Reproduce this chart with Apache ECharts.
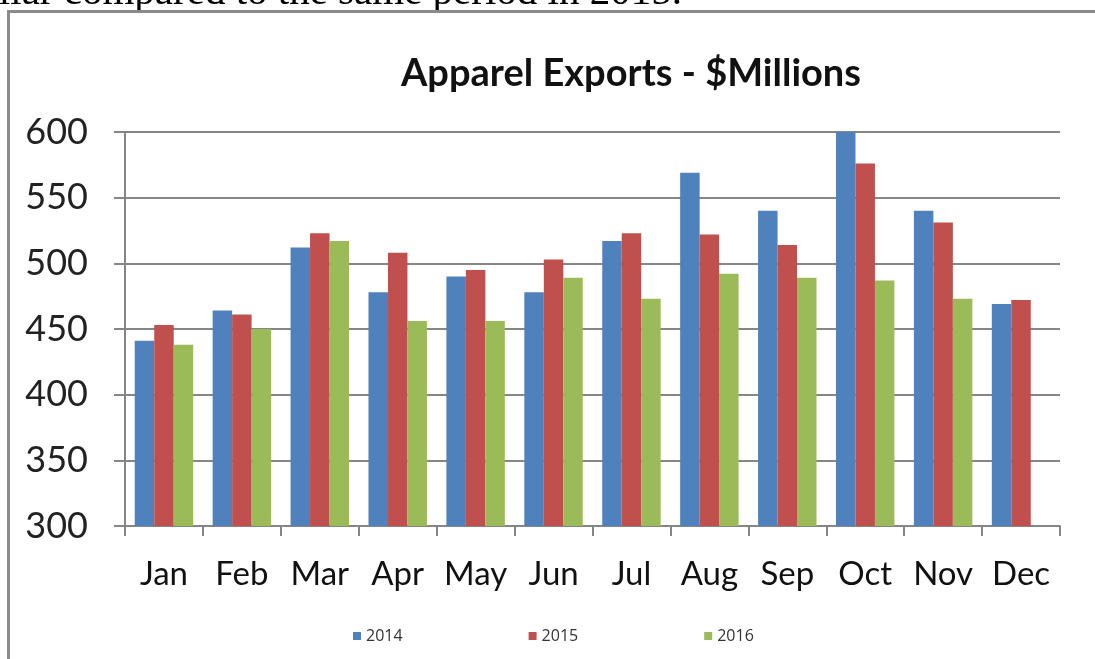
<!DOCTYPE html>
<html>
<head>
<meta charset="utf-8">
<script src="https://cdn.jsdelivr.net/npm/echarts@6/dist/echarts.min.js"></script>
<style>
html,body{margin:0;padding:0;background:#fff;}
#chart{width:1095px;height:659px;}
</style>
</head>
<body>
<div id="chart"></div>
<script>
const months = ['Jan','Feb','Mar','Apr','May','Jun','Jul','Aug','Sep','Oct','Nov','Dec'];
const seriesNames = ['2014','2015','2016'];
const values2014 = [441, 464, 512, 478, 490, 478, 517, 569, 540, 600, 540, 469];
const values2015 = [453, 461, 523, 508, 495, 503, 523, 522, 514, 576, 531, 472];
const values2016 = [438, 450, 517, 456, 456, 489, 473, 492, 489, 487, 473, null];
const yTicks = [300, 350, 400, 450, 500, 550, 600];
const titleText = 'Apparel Exports - $Millions';
const captionText = 'dollar compared to the same period in 2015.';

const colors = ['#4F81BD', '#C0504D', '#9BBB59'];
const chart = echarts.init(document.getElementById('chart'));
const allValues = [values2014, values2015, values2016];

chart.setOption({
  animation: false,
  backgroundColor: '#ffffff',
  color: colors,
  title: {
    text: titleText,
    left: 626,
    textAlign: 'center',
    top: 50,
    textStyle: {fontFamily: 'Lato', fontWeight: 'bold', fontSize: 38, color: '#111'}
  },
  legend: {
    data: seriesNames,
    left: 348,
    top: 623,
    itemWidth: 8,
    itemHeight: 8,
    itemGap: 126,
    icon: 'rect',
    textStyle: {fontFamily: 'Open Sans', fontSize: 16, color: '#333'}
  },
  grid: {left: 125, right: 35, top: 132, bottom: 133},
  xAxis: {
    type: 'category',
    data: months,
    axisLine: {lineStyle: {color: '#868686', width: 2}},
    axisTick: {show: true, length: 10, lineStyle: {color: '#868686', width: 2}},
    axisLabel: {interval: 0, fontFamily: 'Lato', fontSize: 33, color: '#111', margin: 32}
  },
  yAxis: {
    type: 'value',
    min: yTicks[0],
    max: yTicks[yTicks.length - 1],
    interval: 50,
    axisLine: {show: true, lineStyle: {color: '#868686', width: 2}},
    axisTick: {show: true, length: 11, lineStyle: {color: '#868686', width: 2}},
    axisLabel: {fontFamily: 'Lato', fontSize: 36, color: '#222', margin: 37},
    splitLine: {lineStyle: {color: '#868686', width: 2}}
  },
  series: seriesNames.map((name, i) => ({
    name: name,
    type: 'bar',
    data: allValues[i],
    barGap: '0%',
    barCategoryGap: '25%',
    itemStyle: {color: colors[i]}
  })),
  graphic: [
    {
      type: 'text',
      x: 682,
      y: -7,
      style: {
        text: captionText,
        fontFamily: 'Liberation Serif',
        fontSize: 41,
        fill: '#000',
        align: 'right',
        verticalAlign: 'middle'
      },
      z: 10
    },
    {
      type: 'line',
      shape: {x1: 7, y1: 11.5, x2: 1095, y2: 11.5},
      style: {stroke: '#8a8a8a', lineWidth: 3},
      z: 10
    },
    {
      type: 'line',
      shape: {x1: 8.5, y1: 10, x2: 8.5, y2: 659},
      style: {stroke: '#8a8a8a', lineWidth: 3},
      z: 10
    }
  ]
});
</script>
</body>
</html>
